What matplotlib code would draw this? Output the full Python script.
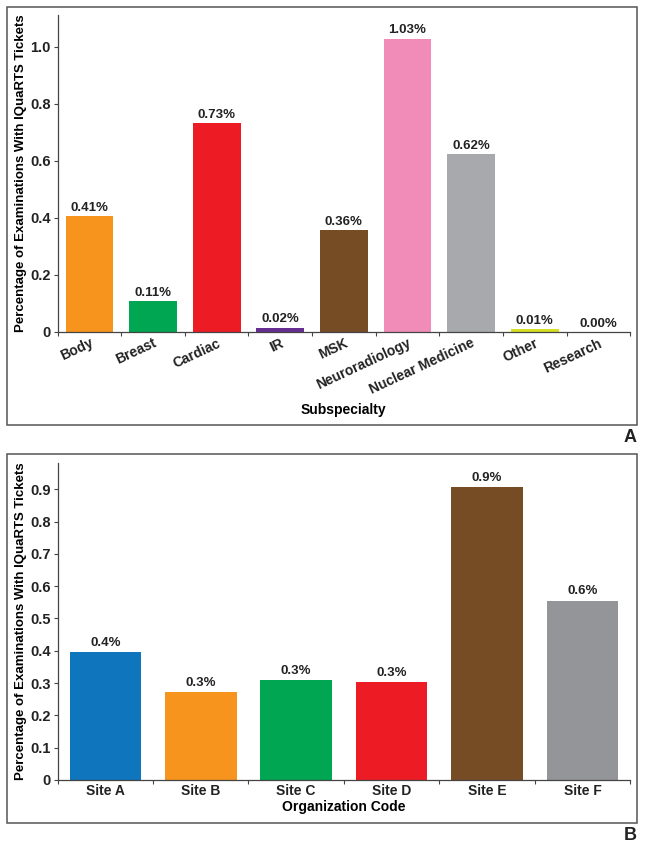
import matplotlib
matplotlib.use("Agg")
import matplotlib.pyplot as plt
from matplotlib.patches import Rectangle

# Panel A: by subspecialty
subspecialties = ["Body", "Breast", "Cardiac", "IR", "MSK", "Neuroradiology",
                  "Nuclear Medicine", "Other", "Research"]
sub_values = [0.406, 0.108, 0.731, 0.015, 0.357, 1.028, 0.624, 0.0095, 0.0]
sub_labels = ["0.41%", "0.11%", "0.73%", "0.02%", "0.36%", "1.03%", "0.62%",
              "0.01%", "0.00%"]
sub_colors = ["#F7941D", "#00A651", "#ED1C24", "#662D91", "#754C24", "#F18CB8",
              "#A7A9AC", "#D7DF23", "#A7A9AC"]

# Panel B: by organization code
sites = ["Site A", "Site B", "Site C", "Site D", "Site E", "Site F"]
site_values = [0.396, 0.272, 0.310, 0.302, 0.907, 0.555]
site_labels = ["0.4%", "0.3%", "0.3%", "0.3%", "0.9%", "0.6%"]
site_colors = ["#0F75BC", "#F7941D", "#00A651", "#ED1C24", "#754C24", "#939598"]

plt.rcParams["font.family"] = ["Liberation Sans", "DejaVu Sans"]
plt.rcParams["font.weight"] = "bold"
plt.rcParams["axes.labelweight"] = "bold"
plt.rcParams["text.color"] = "#222222"
AX_COL = "#444444"
YLABEL = "Percentage of Examinations With IQuaRTS Tickets"

fig = plt.figure(figsize=(6.45, 8.49), dpi=100)

# outer frames
for y0, h in [(0.4994, 0.492), (0.0306, 0.4346)]:
    fig.patches.append(Rectangle((0.0109, y0), 0.977, h, transform=fig.transFigure,
                                 fill=False, edgecolor="#555555", linewidth=1.1))


def style_axes(ax, n):
    for s in ["top", "right"]:
        ax.spines[s].set_visible(False)
    for s in ["left", "bottom"]:
        ax.spines[s].set_color(AX_COL)
        ax.spines[s].set_linewidth(0.9)
    ax.set_xlim(-0.5, n - 0.5)
    ax.set_xticks([i - 0.5 for i in range(n + 1)], minor=True)
    ax.tick_params(axis="x", which="major", length=0, pad=3, labelcolor="#222222")
    ax.tick_params(axis="x", which="minor", length=3, color=AX_COL, width=0.8)
    ax.tick_params(axis="y", length=3, color=AX_COL, width=0.8, labelsize=10.5, pad=2,
                   labelcolor="#222222")


# ---- Panel A
axA = fig.add_axes([0.0893, 0.609, 0.8877, 0.373])
xa = range(len(subspecialties))
axA.bar(xa, sub_values, width=0.75, color=sub_colors)
for x, v, t in zip(xa, sub_values, sub_labels):
    axA.text(x, v + 0.008, t, ha="center", va="bottom", fontsize=9.5, fontweight="bold")
style_axes(axA, len(subspecialties))
axA.set_ylim(0, 1.11)
axA.set_yticks([0, 0.2, 0.4, 0.6, 0.8, 1.0])
axA.set_yticklabels(["0", "0.2", "0.4", "0.6", "0.8", "1.0"])
axA.set_xticks(list(xa))
axA.set_xticklabels(subspecialties, rotation=25, ha="right", va="top",
                    rotation_mode="anchor", fontsize=10)
axA.set_xlabel("Subspecialty", fontsize=10, labelpad=4)
axA.set_ylabel(YLABEL, fontsize=9.5, labelpad=2)

# ---- Panel B
axB = fig.add_axes([0.0893, 0.0813, 0.8877, 0.3737])
xb = range(len(sites))
axB.bar(xb, site_values, width=0.75, color=site_colors)
for x, v, t in zip(xb, site_values, site_labels):
    axB.text(x, v + 0.01, t, ha="center", va="bottom", fontsize=9.5, fontweight="bold")
style_axes(axB, len(sites))
axB.set_ylim(0, 0.982)
axB.set_yticks([i / 10 for i in range(10)])
axB.set_yticklabels(["0"] + [f"{i / 10:.1f}" for i in range(1, 10)])
axB.set_xticks(list(xb))
axB.set_xticklabels(sites, fontsize=10)
axB.set_xlabel("Organization Code", fontsize=10, labelpad=1)
axB.set_ylabel(YLABEL, fontsize=9.5, labelpad=2)

fig.text(0.977, 1 - 437 / 849, "A", fontsize=13, fontweight="bold", ha="center", va="center")
fig.text(0.977, 1 - 835 / 849, "B", fontsize=13, fontweight="bold", ha="center", va="center")

fig.savefig("out.png", dpi=100)
